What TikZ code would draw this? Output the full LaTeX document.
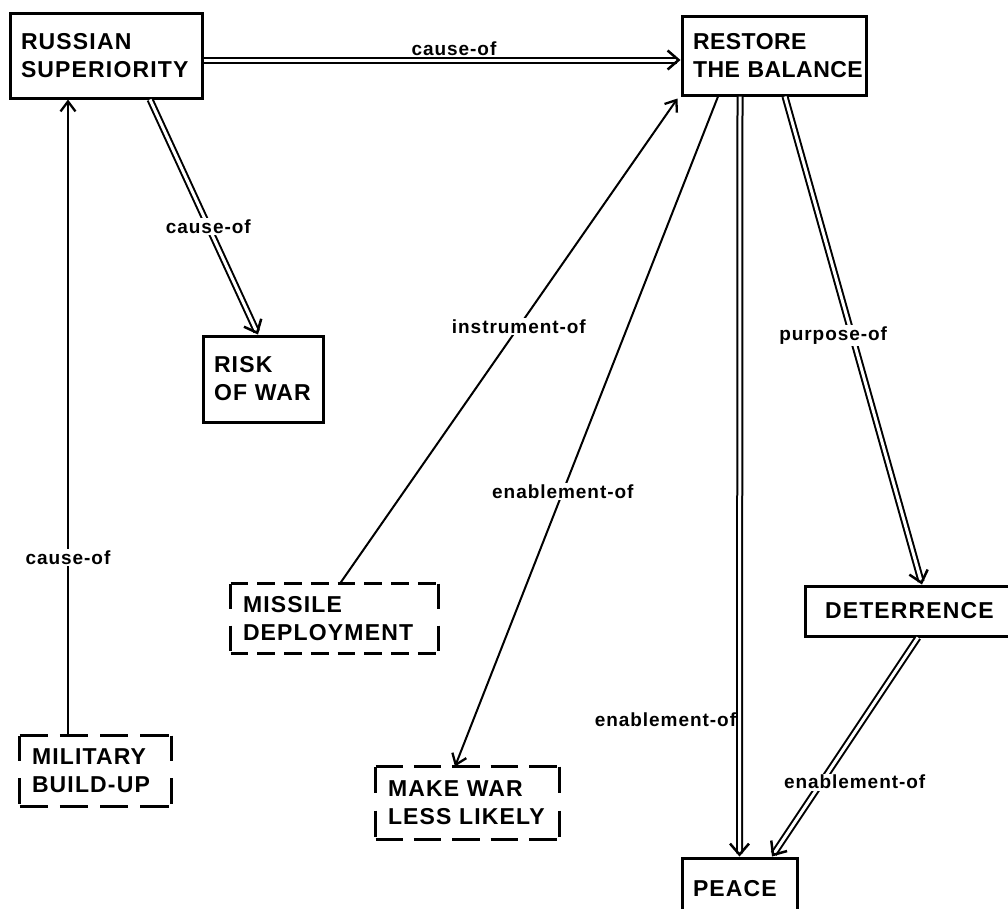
\documentclass[tikz,border=0pt]{standalone}
\usepackage{fontspec}
\setmainfont{Liberation Sans}
\newfontfamily\boxfont[LetterSpace=5]{Liberation Sans}
\newfontfamily\tightfont[LetterSpace=2]{Liberation Sans}
\newfontfamily\lblfont[LetterSpace=5]{Liberation Sans}
\usetikzlibrary{arrows.meta,calc}
\hfuzz=200pt \hbadness=10000
\hyphenpenalty=10000 \exhyphenpenalty=10000
\tikzset{
  box/.style={draw, line width=3pt, inner xsep=11pt, inner ysep=0pt, align=left,
    font=\fontsize{23}{28}\boxfont\bfseries},
  dbox/.style={box, draw=none},
  lbl/.style={font=\fontsize{19}{21}\lblfont\bfseries, fill=white, inner sep=1.5pt},
  sgl/.style={line width=2pt, -{Straight Barb[length=10pt,width=15pt,line width=2.3pt]}},
  dbl/.style={double, double distance=3pt, line width=2pt,
    -{Straight Barb[length=11pt,width=19pt,line width=2.5pt]}},
  dsh/.style={line width=2.8pt}
}
\begin{document}
\begin{tikzpicture}[x=1pt,y=1pt]
\useasboundingbox (0,0) rectangle (1008,-908);
\fill[white] (0,0) rectangle (1008,-908);
% solid boxes
\node[box, minimum width=192, minimum height=85, text width=170] (rs) at (106,-55.5) {RUSSIAN\\SUPERIORITY};
\node[box, minimum width=184, minimum height=79, text width=162, font=\fontsize{23}{28}\tightfont\bfseries] (rb) at (774,-55.5) {RESTORE\\THE~BALANCE};
\node[box, minimum width=120, minimum height=86, text width=98] (rw) at (263,-379) {RISK\\OF~WAR};
\node[box, minimum width=115, minimum height=62, text width=93] (pe) at (739.5,-889) {PEACE};
\node[box, minimum width=217, minimum height=50, text width=195] (de) at (913.5,-611) {\hspace*{9pt}DETERRENCE};
% dashed boxes
\node[dbox, minimum width=205, minimum height=67, text width=183] (md) at (334.5,-618.5) {MISSILE\\DEPLOYMENT};
\node[dbox, minimum width=149, minimum height=68, text width=127] (mb) at (95.5,-771) {MILITARY\\BUILD-UP};
\node[dbox, minimum width=181, minimum height=70, text width=159] (mw) at (467.5,-803) {MAKE~WAR\\LESS~LIKELY};
\draw[dsh, dash pattern=on 17.75pt off 9pt] (md.north west) -- (md.north east);
\draw[dsh, dash pattern=on 17.75pt off 9pt] (md.south west) -- (md.south east);
\draw[dsh, dash pattern=on 25pt off 17pt] (md.north west) -- (md.south west);
\draw[dsh, dash pattern=on 25pt off 17pt] (md.north east) -- (md.south east);
\draw[dsh, dash pattern=on 28.25pt off 12pt] (mb.north west) -- (mb.north east);
\draw[dsh, dash pattern=on 28.25pt off 12pt] (mb.south west) -- (mb.south east);
\draw[dsh, dash pattern=on 25.5pt off 17pt] (mb.north west) -- (mb.south west);
\draw[dsh, dash pattern=on 25.5pt off 17pt] (mb.north east) -- (mb.south east);
\draw[dsh, dash pattern=on 27.4pt off 11pt] (mw.north west) -- (mw.north east);
\draw[dsh, dash pattern=on 27.4pt off 11pt] (mw.south west) -- (mw.south east);
\draw[dsh, dash pattern=on 26pt off 18pt] (mw.north west) -- (mw.south west);
\draw[dsh, dash pattern=on 26pt off 18pt] (mw.north east) -- (mw.south east);
% connectors
\draw[dbl] ([yshift=-4.5pt]rs.east) -- node[lbl, above=2pt, fill=none, xshift=12pt] {cause-of} ([yshift=-4.5pt]rb.west);
\draw[dbl] ([xshift=44pt]rs.south) -- node[lbl, pos=0.54] {cause-of} ([xshift=-5pt]rw.north);
\draw[sgl] ([xshift=-27.5pt]mb.north) -- node[lbl, pos=0.28] {cause-of} ([xshift=-38pt]rs.south);
\draw[sgl] ([xshift=5.5pt]md.north) -- node[lbl, pos=0.53] {instrument-of} ([xshift=-3pt,yshift=-2pt]rb.south west);
\draw[sgl] ([xshift=-56pt]rb.south) -- node[lbl, pos=0.59] {enablement-of} ([xshift=-12.5pt]mw.north);
\draw[dbl] ([xshift=-34pt]rb.south) -- node[lbl, pos=0.82, anchor=east, fill=none, xshift=-1pt] {enablement-of} (pe.north);
\draw[dbl] ([xshift=11pt]rb.south) -- node[lbl, pos=0.49, xshift=-19pt] {purpose-of} ([xshift=8.5pt]de.north);
\draw[dbl] ([xshift=4.5pt]de.south) -- node[lbl, pos=0.66, xshift=33pt] {enablement-of} ([xshift=32.5pt]pe.north);
\end{tikzpicture}
\end{document}
